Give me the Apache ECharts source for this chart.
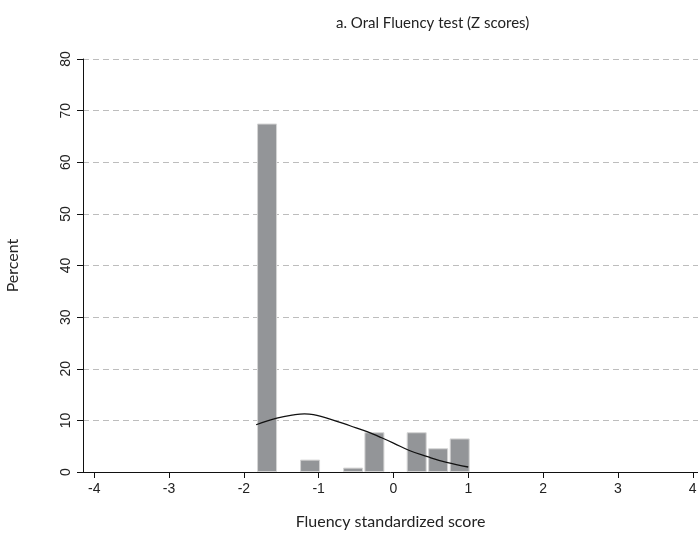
<!DOCTYPE html>
<html>
<head>
<meta charset="utf-8">
<script src="https://cdn.jsdelivr.net/npm/echarts@6/dist/echarts.min.js"></script>
<style>html,body{margin:0;padding:0;background:#fff}#c{width:698px;height:538px}</style>
</head>
<body>
<div id="c"></div>
<script>
// Histogram bins (centers, z scores) and percent heights
var binCenters = [-1.69, -1.115, -0.54, -0.255, 0.31, 0.597, 0.885];
var binPercents = [67.5, 2.4, 0.85, 7.7, 7.7, 4.6, 6.5];
// Normal density overlay
var curveX = [-1.836, -1.559, -1.315, -1.19, -1.071, -0.848, -0.581, -0.336, -0.180, 0.0, 0.22, 0.443, 0.71, 0.999];
var curveY = [9.15, 10.45, 11.1, 11.25, 11.1, 10.26, 8.96, 7.74, 6.77, 5.61, 4.12, 3.02, 1.86, 0.97];
var xTicks = [-4, -3, -2, -1, 0, 1, 2, 3, 4];

var barData = binCenters.map(function (x, i) { return [x, binPercents[i]]; });
var lineData = curveX.map(function (x, i) { return [x, curveY[i]]; });

var chart = echarts.init(document.getElementById('c'), null, {renderer: 'canvas'});
chart.setOption({
  animation: false,
  backgroundColor: '#fff',
  title: {
    text: 'a. Oral Fluency test (Z scores)',
    left: 331, top: 11,
    textStyle: {fontFamily: 'Lato', fontWeight: 'normal', fontSize: 15, color: '#222'}
  },
  grid: {left: 83, right: 0, top: 59, bottom: 66, containLabel: false, outerBoundsMode: 'none'},
  xAxis: {
    type: 'value', min: -4.15, max: 4.07,
    name: 'Fluency standardized score', nameLocation: 'middle', nameGap: 42,
    nameTextStyle: {fontFamily: 'Lato', fontSize: 16, color: '#222'},
    axisLine: {onZero: false, lineStyle: {color: '#111', width: 1}},
    axisTick: {show: true, length: 6, customValues: xTicks, lineStyle: {color: '#111'}},
    axisLabel: {customValues: xTicks, fontFamily: 'Liberation Sans', fontSize: 14, color: '#222', margin: 10},
    splitLine: {show: false}
  },
  yAxis: {
    type: 'value', min: 0, max: 80, interval: 10,
    name: 'Percent', nameLocation: 'middle', nameGap: 62,
    nameTextStyle: {fontFamily: 'Lato', fontSize: 16, color: '#222'},
    axisLine: {show: true, onZero: false, lineStyle: {color: '#111', width: 1}},
    axisTick: {show: true, length: 6, lineStyle: {color: '#111'}},
    axisLabel: {rotate: 90, fontFamily: 'Liberation Sans', fontSize: 14, color: '#222', margin: 10},
    splitLine: {show: true, lineStyle: {color: '#bdbdbd', type: [6, 4], width: 1}}
  },
  series: [
    {
      type: 'bar', data: barData, barWidth: 20,
      itemStyle: {color: '#939598', borderColor: '#d4d4d4', borderWidth: 1},
      z: 2
    },
    {
      type: 'line', data: lineData, smooth: 0.4, showSymbol: false,
      lineStyle: {color: '#111', width: 1.3}, z: 3
    }
  ]
});
</script>
</body>
</html>
